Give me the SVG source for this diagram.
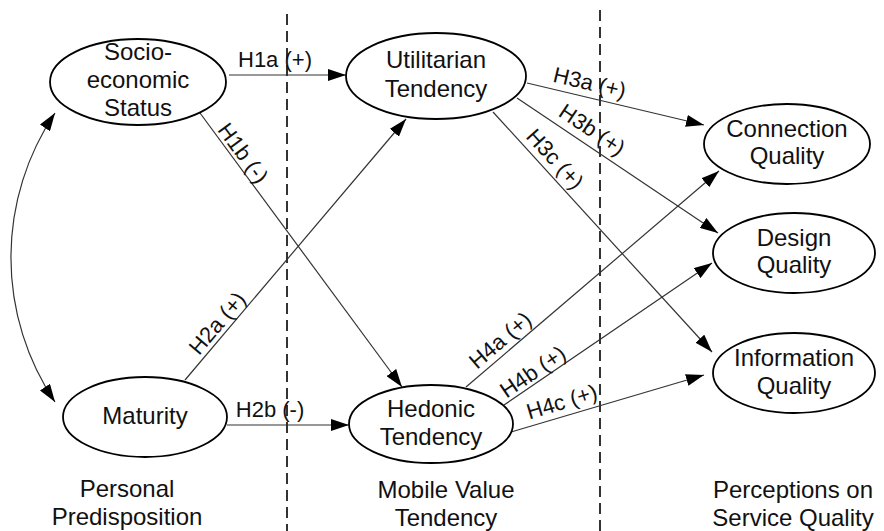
<svg xmlns="http://www.w3.org/2000/svg" width="884" height="531" viewBox="0 0 884 531">
<style>
.node ellipse{fill:#fff;stroke:#000;stroke-width:1.8}
.nt{font-family:"Liberation Sans",Arial,sans-serif;font-size:24px;fill:#111;text-anchor:middle}
.et{font-family:"Liberation Sans",Arial,sans-serif;font-size:22px;fill:#111;text-anchor:middle}
.edge{stroke:#333;stroke-width:1.2;fill:none;marker-end:url(#ah)}
.div{stroke:#333;stroke-width:2;stroke-dasharray:11 6;fill:none}
</style>
<defs>
<marker id="ah" markerUnits="userSpaceOnUse" markerWidth="19" markerHeight="12" refX="18" refY="6" orient="auto-start-reverse">
<path d="M0,0 L18,6 L0,12 z" fill="#000"/>
</marker>
</defs>
<rect width="884" height="531" fill="#fff"/>
<g id="dividers">
<line class="div" x1="287" y1="14" x2="287" y2="531"/>
<line class="div" x1="600" y1="10" x2="600" y2="531"/>
</g>
<g id="connectors">
<line class="edge" x1="229" y1="75" x2="346" y2="75"/>
<line class="edge" x1="200" y1="113" x2="402" y2="387"/>
<line class="edge" x1="185" y1="380" x2="406" y2="119"/>
<line class="edge" x1="227" y1="425" x2="349" y2="425"/>
<line class="edge" x1="527" y1="83" x2="704" y2="125"/>
<line class="edge" x1="517" y1="98" x2="718" y2="233"/>
<line class="edge" x1="493" y1="112" x2="712" y2="352"/>
<line class="edge" x1="466" y1="387" x2="719" y2="171"/>
<line class="edge" x1="504" y1="405" x2="712" y2="263"/>
<line class="edge" x1="511" y1="432" x2="704" y2="375"/>
<path class="edge" style="marker-start:url(#ah)" d="M55,113 A259,259 0 0 0 55,402"/>
<text class="et" x="275" y="67">H1a (+)</text>
<text class="et" transform="translate(237,157.5) rotate(53.6)">H1b (-)</text>
<text class="et" transform="translate(223,328) rotate(-49.6)">H2a (+)</text>
<text class="et" x="270" y="417">H2b (-)</text>
<text class="et" transform="translate(588,90) rotate(13.3)">H3a (+)</text>
<text class="et" transform="translate(588,136) rotate(33.9)">H3b (+)</text>
<text class="et" transform="translate(549.5,164) rotate(47.6)">H3c (+)</text>
<text class="et" transform="translate(505,346) rotate(-40.5)">H4a (+)</text>
<text class="et" transform="translate(537,378) rotate(-34.3)">H4b (+)</text>
<text class="et" transform="translate(564,409) rotate(-16.8)">H4c (+)</text>
</g>
<g id="socio" class="node">
<ellipse cx="138" cy="82" rx="88" ry="43"/>
<text class="nt" x="138" y="60">Socio-</text>
<text class="nt" x="138" y="88">economic</text>
<text class="nt" x="138" y="116">Status</text>
</g>
<g id="maturity" class="node">
<ellipse cx="145" cy="417" rx="82" ry="40"/>
<text class="nt" x="145" y="424">Maturity</text>
</g>
<g id="utilitarian" class="node">
<ellipse cx="436" cy="76" rx="90" ry="43"/>
<text class="nt" x="436" y="68">Utilitarian</text>
<text class="nt" x="436" y="97">Tendency</text>
</g>
<g id="hedonic" class="node">
<ellipse cx="431" cy="424" rx="82" ry="39"/>
<text class="nt" x="431" y="417">Hedonic</text>
<text class="nt" x="431" y="445">Tendency</text>
</g>
<g id="connection" class="node">
<ellipse cx="787" cy="144" rx="83" ry="40"/>
<text class="nt" x="787" y="137">Connection</text>
<text class="nt" x="787" y="164">Quality</text>
</g>
<g id="design" class="node">
<ellipse cx="794" cy="253" rx="81" ry="40"/>
<text class="nt" x="794" y="246">Design</text>
<text class="nt" x="794" y="273">Quality</text>
</g>
<g id="information" class="node">
<ellipse cx="794" cy="373" rx="81" ry="40"/>
<text class="nt" x="794" y="366">Information</text>
<text class="nt" x="794" y="394">Quality</text>
</g>
<g id="col-labels">
<text class="nt" x="127" y="497">Personal</text>
<text class="nt" x="127" y="525">Predisposition</text>
<text class="nt" x="446" y="498">Mobile Value</text>
<text class="nt" x="446" y="526">Tendency</text>
<text class="nt" x="793" y="498">Perceptions on</text>
<text class="nt" x="793" y="526">Service Quality</text>
</g>
</svg>
